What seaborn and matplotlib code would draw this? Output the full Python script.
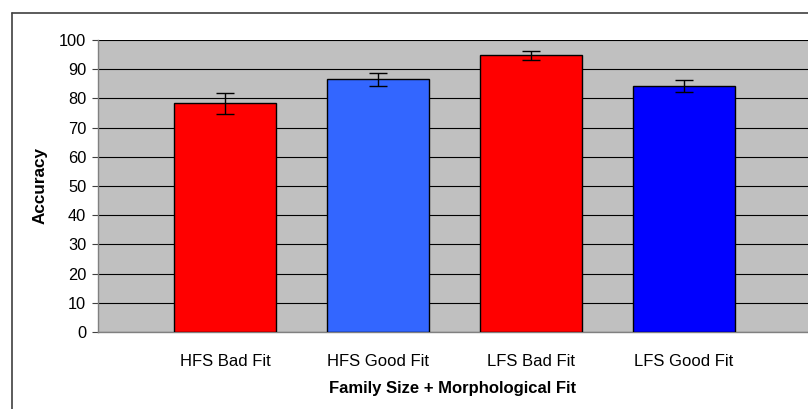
import matplotlib
matplotlib.use('Agg')
import matplotlib.pyplot as plt
import pandas as pd
import seaborn as sns
from matplotlib.lines import Line2D

# data
groups = ['HFS Bad Fit', 'HFS Good Fit', 'LFS Bad Fit', 'LFS Good Fit']
accuracy = [78.3, 86.5, 94.7, 84.2]
err = [3.5, 2.3, 1.5, 2.1]
bar_colors = ['#FF0000', '#3366FF', '#FF0000', '#0000FF']

df = pd.DataFrame({'group': groups, 'accuracy': accuracy})

sns.set_style('white')
plt.rcParams['font.family'] = ['Liberation Sans', 'DejaVu Sans']
plt.rcParams['text.color'] = 'black'
plt.rcParams['axes.labelcolor'] = 'black'
plt.rcParams['xtick.color'] = 'black'
plt.rcParams['ytick.color'] = 'black'

fig = plt.figure(figsize=(8.08, 4.09), dpi=100)
ax = fig.add_axes([98 / 808, 77 / 409, 1 - 98 / 808, 292 / 409])
ax.set_facecolor('#C0C0C0')

sns.barplot(data=df, x='group', y='accuracy', hue='group', palette=bar_colors,
            saturation=1, legend=False, errorbar=None, width=0.667,
            edgecolor='black', linewidth=1.0, ax=ax, zorder=3)
ax.errorbar(range(len(groups)), accuracy, yerr=err, fmt='none',
            ecolor='black', elinewidth=1.0, capsize=6.5, capthick=1.0, zorder=4)

ax.set_xlim(-0.83, 3.81)
ax.set_ylim(0, 100)
ax.set_yticks(range(0, 101, 10))
ax.grid(axis='y', color='black', linewidth=0.8)
ax.set_axisbelow(True)

for s in ['top', 'right']:
    ax.spines[s].set_visible(False)
for s in ['left', 'bottom']:
    ax.spines[s].set_color('#808080')
    ax.spines[s].set_linewidth(1.0)

ax.tick_params(axis='y', direction='out', length=4.5, width=0.8,
               color='#404040', labelsize=11.8, pad=4, left=True)
ax.tick_params(axis='x', length=0, labelsize=12, pad=15.5)

ax.set_xlabel('Family Size + Morphological Fit', fontsize=12, fontweight='bold',
              labelpad=9)
ax.set_ylabel('Accuracy', fontsize=12.3, fontweight='bold', labelpad=8)

# outer chart frame (cut off at right and bottom)
fig.add_artist(Line2D([12 / 808, 12 / 808], [0, 1 - 13 / 409],
                      transform=fig.transFigure, color='#404040', linewidth=1.2))
fig.add_artist(Line2D([12 / 808, 1], [1 - 13 / 409, 1 - 13 / 409],
                      transform=fig.transFigure, color='#404040', linewidth=1.2))

fig.savefig('out.png', dpi=100)
